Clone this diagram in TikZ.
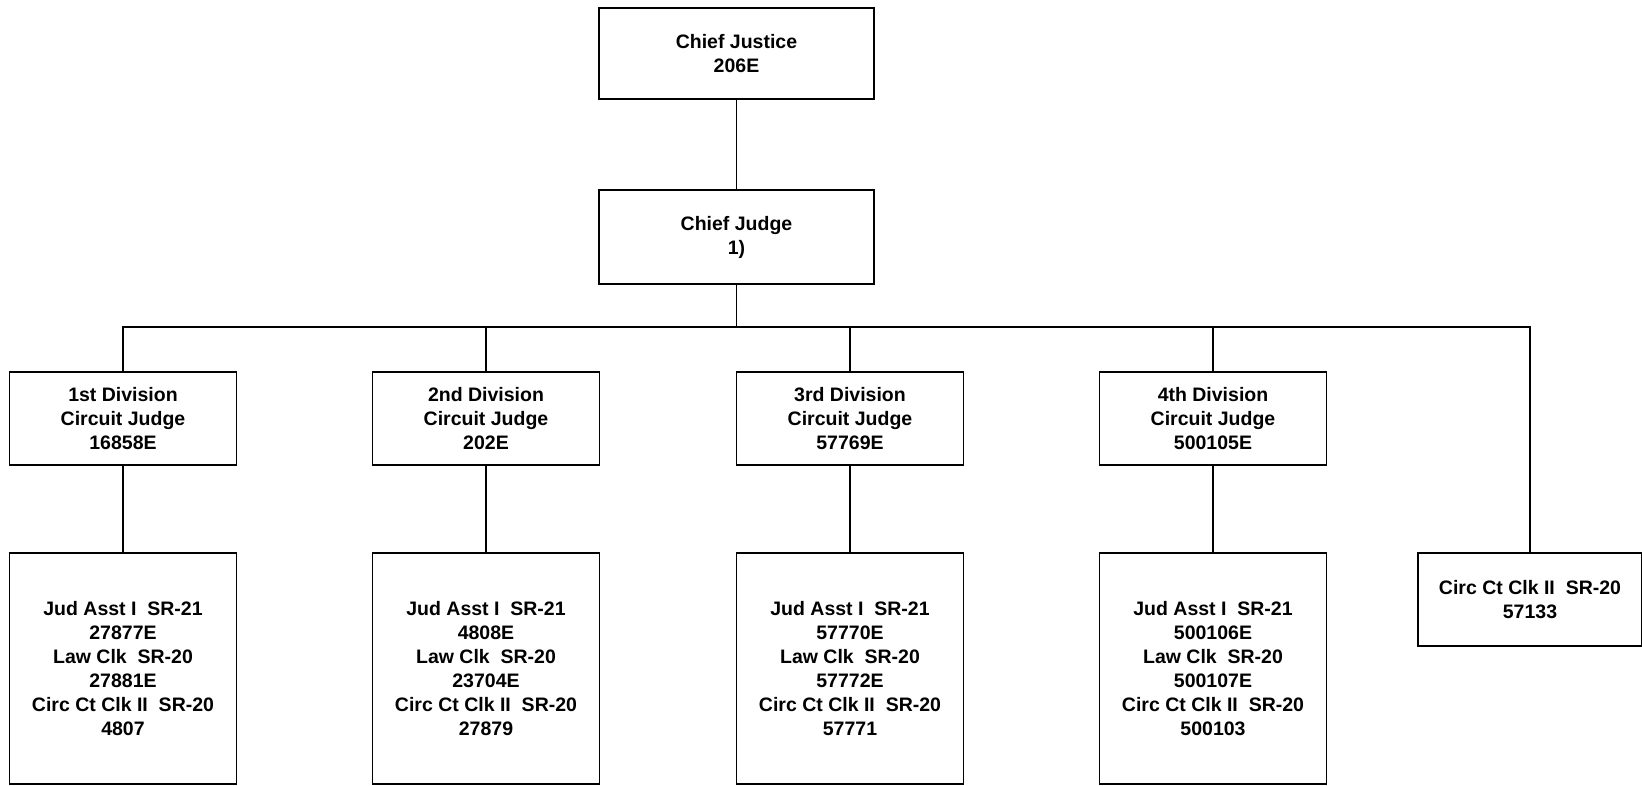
\documentclass[tikz,border=0pt]{standalone}
\usepackage{fontspec}
\setmainfont{Liberation Sans}
\usetikzlibrary{positioning}

\begin{document}
\begin{tikzpicture}[x=1pt,y=-1pt,font=\bfseries\fontsize{19.5}{24}\selectfont,
  box/.style={draw,line width=1.8pt,align=center,inner sep=0pt,minimum width=227pt},
  link/.style={line width=1.5pt}]
\useasboundingbox (0,0) rectangle (1642,785);
\node[box,minimum width=275pt,minimum height=91pt] (cjus) at (736.5,53.5) {Chief Justice\\206E};
\node[box,minimum width=275pt,minimum height=94pt] (cjudge) at (736.5,237) {Chief Judge\\1)};
\coordinate (bar) at (736.5,327);
\draw[link] (cjus) -- (cjudge);
\draw[link] (cjudge) -- (bar);
\foreach \n/\x/\dv/\cjn/\ja/\lc/\cc in {1/123/1st/16858E/27877E/27881E/4807,
  2/486/2nd/202E/4808E/23704E/27879, 3/850/3rd/57769E/57770E/57772E/57771,
  4/1213/4th/500105E/500106E/500107E/500103}{
  \node[box,minimum height=93pt] (div\n) at (\x,418.5) {\dv\ Division\\Circuit Judge\\\cjn};
  \node[box,minimum height=231pt] (staff\n) at (\x,668.5) {Jud Asst I\ \ SR-21\\\ja\\Law Clk\ \ SR-20\\\lc\\Circ Ct Clk II\ \ SR-20\\\cc};
  \draw[link] (div\n.north) |- (bar);
  \draw[link] (div\n) -- (staff\n);
}
\node[box,minimum width=224pt,minimum height=93pt] (clerk) at (1530,599.5) {Circ Ct Clk II\ \ SR-20\\57133};
\draw[link] (clerk.north) |- (bar);
\end{tikzpicture}
\end{document}
